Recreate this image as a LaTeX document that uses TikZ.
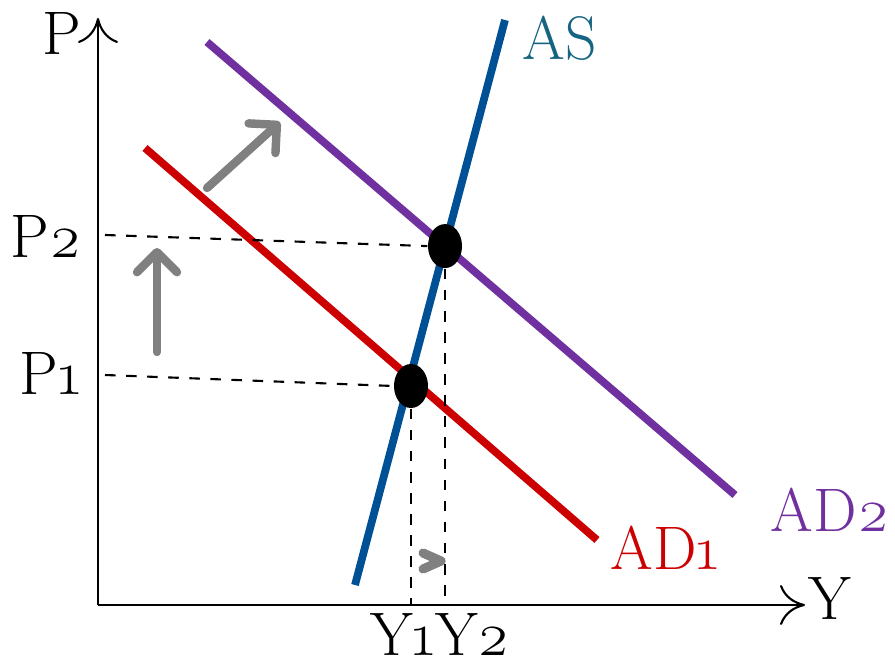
\documentclass[tikz,border=0pt]{standalone}
\usepackage{fontspec}
\setmainfont{Latin Modern Roman}[Numbers=OldStyle]
\usepackage{tikz}
\usetikzlibrary{positioning,arrows.meta,calc,shapes.geometric}
\definecolor{asblue}{RGB}{0,80,150}
\definecolor{asteal}{RGB}{20,100,130}
\definecolor{adred}{RGB}{204,0,0}
\definecolor{adpurple}{RGB}{112,48,160}
\definecolor{shiftgray}{RGB}{128,128,128}

\begin{document}
\begin{tikzpicture}[
  font=\fontsize{17.5}{20}\selectfont, >=Stealth,
  axis/.style={->, line width=0.6pt, >={To[length=2.5mm,width=4mm]}},
  curve/.style={line width=2.2pt},
  guide/.style={dashed, line width=0.6pt, dash pattern=on 3pt off 3pt},
  eq/.style={ellipse, fill=black, minimum width=0.34cm, minimum height=0.44cm, inner sep=0pt},
  shiftarr/.style={line width=2.4pt, color=shiftgray, line cap=round,
                -{Straight Barb[length=2mm,width=4mm,round]}},
]
\useasboundingbox (0,0) rectangle (8.95,6.64);

% 坐标轴
\coordinate (o) at (0.98,0.59);
\coordinate (ytop) at (0.98,6.46);
\coordinate (xend) at (8.05,0.59);
\draw[axis] (o) -- (ytop);
\draw[axis] (o) -- (xend);
\node (lblP) at (0.62,6.30) {P};
\node (lblY) at (8.30,0.66) {Y};

% 曲线端点
\coordinate (as1) at (3.55,0.79);  \coordinate (as2) at (5.05,6.44);
\coordinate (ad1a) at (1.45,5.16); \coordinate (ad1b) at (5.97,1.24);
\coordinate (ad2a) at (2.07,6.22); \coordinate (ad2b) at (7.35,1.69);

\draw[curve, adred] (ad1a) -- (ad1b);
\draw[curve, adpurple] (ad2a) -- (ad2b);
\draw[curve, asblue] (as1) -- (as2);

\node[text=asteal] (lblAS) at (5.60,6.26) {AS};
\node[text=adred] (lblAD1) at (6.65,1.16) {AD1};
\node[text=adpurple] (lblAD2) at (8.30,1.54) {AD2};

% 均衡点
\node[eq] (e1) at (4.11,2.78) {};
\node[eq] (e2) at (intersection of as1--as2 and ad2a--ad2b) {};

% 虚线
\coordinate (p1) at (1.05,2.89);
\coordinate (p2) at (1.05,4.29);
\coordinate (y1) at (e1 |- o);
\coordinate (y2) at (e2 |- o);
\draw[guide] (p1) -- (e1.west);
\draw[guide] (p2) -- (e2.west);
\draw[guide] (e1.south) -- (y1);
\draw[guide] (e2.south) -- (y2);

\node (lblP2) at (0.46,4.27) {P2};
\node (lblP1) at (0.50,2.90) {P1};
\node (lblY12) at (4.40,0.30) {Y1Y2};

% 移动箭头
\coordinate (u1) at (1.57,3.12); \coordinate (u2) at (1.57,4.16);
\coordinate (d1) at (2.07,4.76); \coordinate (d2) at (2.80,5.42);
\draw[shiftarr] (u1) -- (u2);
\draw[shiftarr] (d1) -- (d2);
\draw[line width=2.6pt, shiftgray, line cap=round, line join=round]
  (4.23,1.11) -- (4.41,1.03) -- (4.23,0.95);
\end{tikzpicture}
\end{document}
